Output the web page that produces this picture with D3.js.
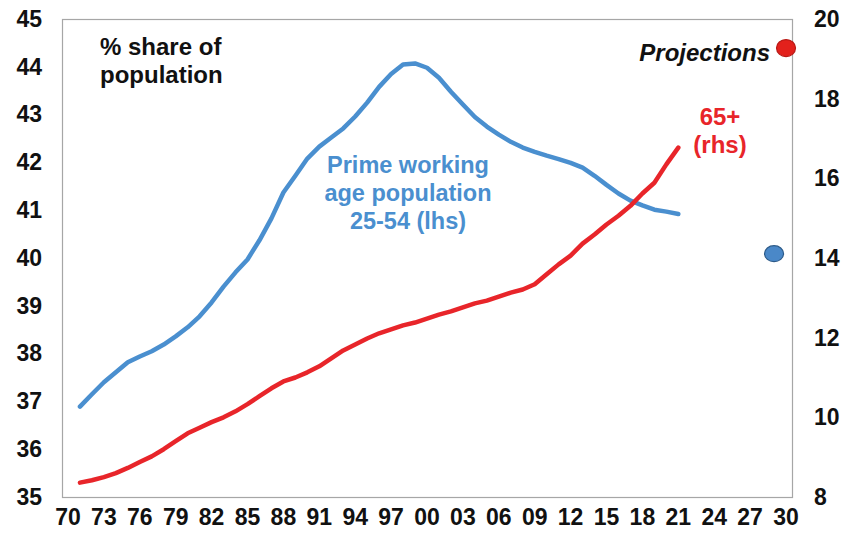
<!DOCTYPE html>
<html>
<head>
<meta charset="utf-8">
<script src="https://cdn.jsdelivr.net/npm/d3@7"></script>
<style>
  body { margin: 0; background: #fff; }
  svg { display: block; }
</style>
</head>
<body>
<div id="chart"></div>
<script>
// years on the category axis
const years = d3.range(1970, 2031)
const tickYears = d3.range(1970, 2031, 3)
const leftTicks = d3.range(35, 46, 1)
const rightTicks = d3.range(8, 21, 2)

// prime working age 25-54, % of population (lhs), 1971-2021
const primeYears = d3.range(1971, 2022)
const primeAge = [
  36.89, 37.15, 37.40, 37.61, 37.82, 37.94, 38.05, 38.19, 38.36, 38.55,
  38.78, 39.07, 39.40, 39.70, 39.97, 40.37, 40.83, 41.37, 41.72, 42.08,
  42.33, 42.52, 42.71, 42.96, 43.25, 43.58, 43.85, 44.05, 44.07, 43.98,
  43.77, 43.48, 43.21, 42.95, 42.75, 42.58, 42.43, 42.31, 42.22, 42.14,
  42.07, 41.99, 41.89, 41.72, 41.53, 41.35, 41.20, 41.10, 41.01, 40.97,
  40.92
]

// aged 65+, % of population (rhs), 1971-2021
const over65 = [
  8.36, 8.42, 8.50, 8.60, 8.73, 8.88, 9.02, 9.20, 9.40, 9.60,
  9.74, 9.88, 10.00, 10.15, 10.33, 10.53, 10.73, 10.90, 11.00, 11.13,
  11.28, 11.48, 11.68, 11.83, 11.98, 12.11, 12.21, 12.31, 12.38, 12.48,
  12.58, 12.66, 12.76, 12.86, 12.93, 13.03, 13.13, 13.21, 13.34, 13.59,
  13.84, 14.06, 14.36, 14.59, 14.84, 15.06, 15.31, 15.62, 15.89, 16.35,
  16.77
]

// projections
const projPrime = { year: 2029, value: 40.09 }
const proj65 = { year: 2030, value: 19.27 }

const width = 856
const height = 537
const margin = { top: 19, right: 64, bottom: 40, left: 62 }
const font = "'Liberation Sans', Arial, sans-serif"
const blue = "#4a8fcf"
const red = "#e8252a"

const svg = d3.select("#chart").append("svg")
  .attr("width", width)
  .attr("height", height)
  .attr("font-family", font)

const x = d3.scaleBand()
  .domain(years)
  .range([margin.left, width - margin.right])
  .padding(0)

const yL = d3.scaleLinear()
  .domain([35, 45])
  .range([height - margin.bottom, margin.top])

const yR = d3.scaleLinear()
  .domain([8, 20])
  .range([height - margin.bottom, margin.top])

const cx = yr => x(yr) + x.bandwidth() / 2

// frame
svg.append("rect")
  .attr("x", margin.left + 0.5)
  .attr("y", margin.top + 0.5)
  .attr("width", width - margin.left - margin.right)
  .attr("height", height - margin.top - margin.bottom)
  .attr("fill", "none")
  .attr("stroke", "#a6a6a6")
  .attr("stroke-width", 1.2)

// axes (labels only)
const leftAxis = svg.append("g")
  .attr("transform", `translate(${margin.left},0)`)
  .call(d3.axisLeft(yL).tickValues(leftTicks).tickSize(0).tickPadding(20))
const rightAxis = svg.append("g")
  .attr("transform", `translate(${width - margin.right},0)`)
  .call(d3.axisRight(yR).tickValues(rightTicks).tickSize(0).tickPadding(22))
const bottomAxis = svg.append("g")
  .attr("transform", `translate(0,${height - margin.bottom})`)
  .call(d3.axisBottom(x).tickValues(tickYears).tickSize(0).tickPadding(12)
    .tickFormat(d => d3.format("02d")(d % 100)))

for (const g of [leftAxis, rightAxis, bottomAxis]) {
  g.select(".domain").remove()
  g.selectAll("text")
    .attr("font-family", font)
    .attr("font-size", 23)
    .attr("font-weight", "bold")
    .attr("fill", "#111")
}

// lines
const lineL = d3.line().x((d, i) => cx(primeYears[i])).y(d => yL(d))
const lineR = d3.line().x((d, i) => cx(primeYears[i])).y(d => yR(d))

svg.append("path")
  .datum(primeAge)
  .attr("d", lineL)
  .attr("fill", "none")
  .attr("stroke", blue)
  .attr("stroke-width", 4.5)
  .attr("stroke-linejoin", "round")
  .attr("stroke-linecap", "round")

svg.append("path")
  .datum(over65)
  .attr("d", lineR)
  .attr("fill", "none")
  .attr("stroke", red)
  .attr("stroke-width", 4.5)
  .attr("stroke-linejoin", "round")
  .attr("stroke-linecap", "round")

// projection markers
svg.append("ellipse")
  .attr("cx", cx(projPrime.year))
  .attr("cy", yL(projPrime.value))
  .attr("rx", 9.5)
  .attr("ry", 8)
  .attr("fill", "#4a88c8")
  .attr("stroke", "#2c5a88")
  .attr("stroke-width", 1.2)

svg.append("ellipse")
  .attr("cx", cx(proj65.year))
  .attr("cy", yR(proj65.value))
  .attr("rx", 9.5)
  .attr("ry", 8.5)
  .attr("fill", "#e3211c")
  .attr("stroke", "#b81a16")
  .attr("stroke-width", 1.2)

// annotations
const note = (lines, xPos, yPos, opts) => {
  const t = svg.append("text")
    .attr("x", xPos)
    .attr("y", yPos)
    .attr("font-size", opts.size || 24)
    .attr("font-weight", "bold")
    .attr("font-style", opts.italic ? "italic" : null)
    .attr("fill", opts.color)
    .attr("text-anchor", opts.anchor || "start")
  lines.forEach((l, i) => {
    t.append("tspan")
      .attr("x", xPos)
      .attr("dy", i ? 28 : 0)
      .text(l)
  })
}

note(["% share of", "population"], 100, 55, { color: "#111" })
note(["Projections"], 770, 61, { color: "#111", italic: true, anchor: "end" })
note(["65+", "(rhs)"], 720, 125, { color: red, anchor: "middle" })
note(["Prime working", "age population", "25-54 (lhs)"], 408, 173, { color: blue, anchor: "middle", size: 23.5 })
</script>
</body>
</html>
